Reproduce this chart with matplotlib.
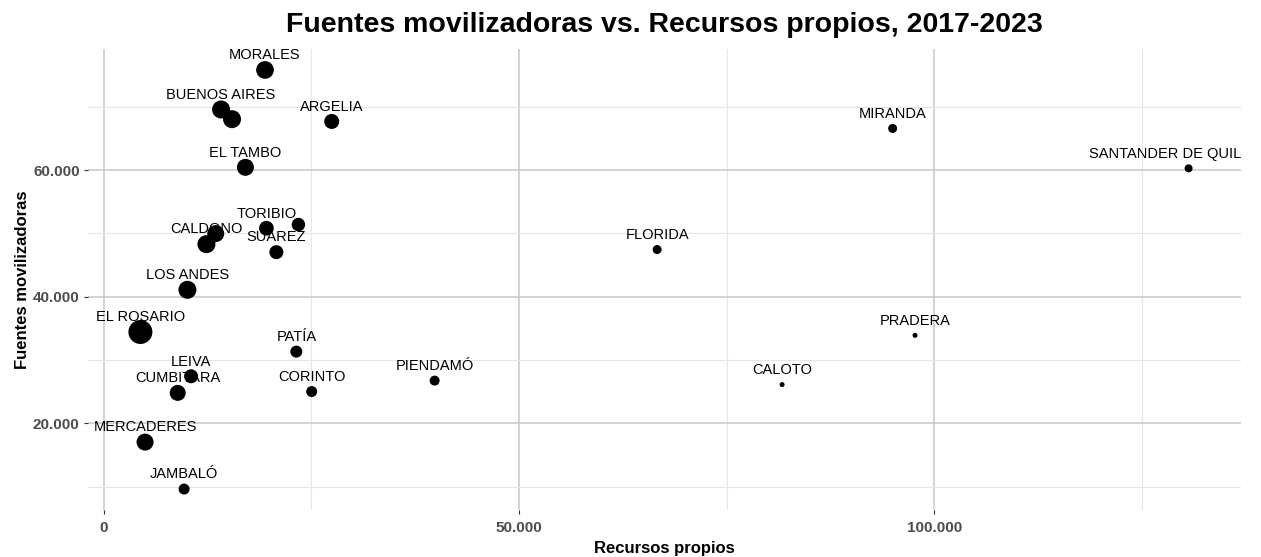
import matplotlib.pyplot as plt
import matplotlib.transforms as mtransforms
from matplotlib.ticker import FuncFormatter, MultipleLocator

# municipios (las cadenas vacías son puntos sin etiqueta)
municipios = ["MORALES", "BUENOS AIRES", "", "ARGELIA", "EL TAMBO",
              "TORIBIO", "", "", "CALDONO", "SUAREZ", "LOS ANDES",
              "EL ROSARIO", "PATÍA", "LEIVA", "CUMBITARA", "CORINTO",
              "PIENDAMÓ", "MERCADERES", "JAMBALÓ", "FLORIDA", "MIRANDA",
              "SANTANDER DE QUILICHAO", "PRADERA", "CALOTO"]
recursos_propios = [19410, 14120, 15440, 27440, 17050,
                    19580, 23430, 13480, 12360, 20780, 10070,
                    4410, 23180, 10510, 8900, 25030,
                    39830, 4970, 9670, 66620, 94970,
                    130600, 97670, 81660]
fuentes_movilizadoras = [75800, 69560, 68030, 67670, 60430,
                         50820, 51390, 49970, 48300, 47040, 41100,
                         34440, 31340, 27450, 24830, 25040,
                         26770, 17060, 9650, 47450, 66570,
                         60270, 33910, 26140]
# variable de tamaño (diámetro relativo del punto)
tamano = [17.7, 18, 18, 15, 17,
          14.7, 13.5, 17, 18, 14, 18,
          24, 12, 14, 16, 11,
          10, 17, 11, 9, 9,
          8, 5, 5]

titulo = "Fuentes movilizadoras vs. Recursos propios, 2017-2023"

plt.rcParams['font.family'] = ['Liberation Sans', 'DejaVu Sans']

fig = plt.figure(figsize=(12.61, 5.57), dpi=100)
ax = fig.add_axes([88 / 1261, 1 - 510 / 557, (1241 - 88) / 1261, (510 - 49) / 557])

# puntos (diámetro en px -> área en pt^2)
areas = [(d * 0.72) ** 2 for d in tamano]
ax.scatter(recursos_propios, fuentes_movilizadoras, s=areas, color="black",
           linewidths=0, zorder=3)

# etiquetas encima de cada punto
trans = mtransforms.offset_copy(ax.transData, fig=fig, x=0, y=7.7, units="points")
for nombre, x, y in zip(municipios, recursos_propios, fuentes_movilizadoras):
    if nombre:
        ax.text(x, y, nombre, transform=trans, ha="center", va="baseline",
                fontsize=10.5, color="black", clip_on=True, zorder=4)

# límites con expansión del 5%
xr = max(recursos_propios) - min(recursos_propios)
yr = max(fuentes_movilizadoras) - min(fuentes_movilizadoras)
ax.set_xlim(min(recursos_propios) - 0.05 * xr, max(recursos_propios) + 0.05 * xr)
ax.set_ylim(min(fuentes_movilizadoras) - 0.05 * yr, max(fuentes_movilizadoras) + 0.05 * yr)

miles = FuncFormatter(lambda v, p: f"{v:,.0f}".replace(",", "."))
ax.xaxis.set_major_locator(MultipleLocator(50000))
ax.xaxis.set_minor_locator(MultipleLocator(25000))
ax.yaxis.set_major_locator(MultipleLocator(20000))
ax.yaxis.set_minor_locator(MultipleLocator(10000))
ax.xaxis.set_major_formatter(miles)
ax.yaxis.set_major_formatter(miles)

ax.grid(which="major", color="#c8c8c8", linewidth=1.1)
ax.grid(which="minor", color="#e6e6e6", linewidth=0.8)
ax.set_axisbelow(True)
for s in ax.spines.values():
    s.set_visible(False)

ax.tick_params(which="major", length=3, width=0.8, color="#333333", pad=3,
               labelsize=11, labelcolor="#4d4d4d")
ax.tick_params(axis="x", which="major", pad=5)
ax.tick_params(which="minor", length=0)
for lab in ax.get_xticklabels() + ax.get_yticklabels():
    lab.set_fontweight("bold")

ax.set_xlabel("Recursos propios", fontsize=12, fontweight="bold", labelpad=4)
ax.set_ylabel("Fuentes movilizadoras", fontsize=12, fontweight="bold", labelpad=2)
ax.set_title(titulo, fontsize=20.5, fontweight="bold", pad=12)

fig.savefig("out.png", dpi=100)
